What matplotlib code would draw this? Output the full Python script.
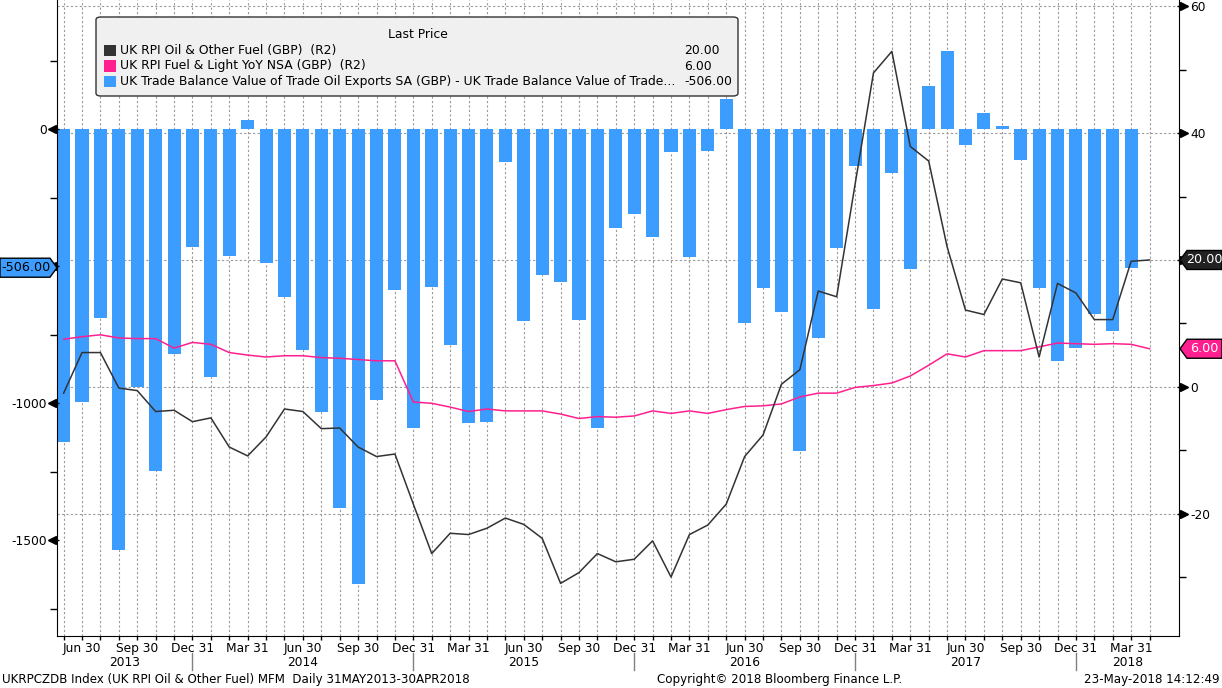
import matplotlib
matplotlib.use("Agg")
import matplotlib.pyplot as plt
import matplotlib.transforms as mtrans
from matplotlib.patches import Polygon, FancyBboxPatch, Rectangle
from matplotlib.lines import Line2D
import numpy as np
import pandas as pd

# ---------------- data ----------------
months = pd.date_range("2013-05-31", "2018-04-30", freq="ME")   # month-end dates (60)

# UK Trade Balance oil exports - imports (GBP mn), May 2013 .. Mar 2018 (left axis)
trade_balance = [-1141, -995, -689, -1535, -942, -1247, -820, -430, -906, -462,
                 33, -488, -612, -805, -1032, -1382, -1659, -988, -586, -1090,
                 -575, -787, -1072, -1068, -119, -700, -532, -557, -696, -1090,
                 -360, -309, -393, -83, -466, -79, 109, -707, -579, -667,
                 -1174, -762, -433, -134, -656, -160, -510, 157, 285, -58,
                 58, 12, -113, -579, -847, -798, -675, -737, -506]

# UK RPI Oil & Other Fuel (right axis)
rpi_oil = [-1.0, 5.4, 5.4, -0.2, -0.6, -3.9, -3.7, -5.5, -4.9, -9.5,
           -10.9, -7.9, -3.5, -3.9, -6.6, -6.5, -9.5, -11.0, -10.6, -18.5,
           -26.3, -23.1, -23.3, -22.3, -20.7, -21.7, -23.9, -31.0, -29.3, -26.3,
           -27.6, -27.2, -24.3, -30.0, -23.3, -21.8, -18.5, -11.0, -7.6, 0.4,
           2.7, 15.1, 14.2, 31.9, 49.5, 52.9, 37.9, 35.6, 22.1, 12.1,
           11.4, 17.0, 16.4, 4.7, 16.3, 14.8, 10.6, 10.6, 19.8, 20.0]

# UK RPI Fuel & Light YoY (right axis)
rpi_fuel_light = [7.5, 7.9, 8.2, 7.7, 7.6, 7.6, 6.1, 7.0, 6.7, 5.4,
                  5.0, 4.7, 4.9, 4.9, 4.6, 4.5, 4.3, 4.1, 4.1, -2.4,
                  -2.6, -3.2, -3.9, -3.5, -3.8, -3.8, -3.8, -4.3, -5.0, -4.7,
                  -4.8, -4.6, -3.8, -4.2, -3.8, -4.2, -3.6, -3.1, -3.0, -2.7,
                  -1.6, -1.0, -1.0, -0.1, 0.2, 0.6, 1.7, 3.4, 5.2, 4.7,
                  5.7, 5.7, 5.7, 6.3, 6.9, 6.8, 6.7, 6.8, 6.7, 6.0]

series_names = ["UK RPI Oil & Other Fuel (GBP)  (R2)",
                "UK RPI Fuel & Light YoY NSA (GBP)  (R2)",
                "UK Trade Balance Value of Trade Oil Exports SA (GBP) - UK Trade Balance Value of Trade..."]

left_major = [-1500, -1000, -500, 0]
left_minor = [-1750, -1250, -750, -250, 250]
right_major = [-20, 0, 20, 40, 60]
right_minor = [-30, -10, 10, 30, 50]

# ---------------- style ----------------
plt.rcParams['font.family'] = ['DejaVu Sans']
plt.rcParams['axes.unicode_minus'] = False
FS = 8.8
FS_LEG = 8.9
C_BAR = '#3d9dff'
C_OIL = '#333333'
C_PINK = '#ff1f8f'
C_GRID = '#9a9a9a'

W, H = 1222, 688
fig = plt.figure(figsize=(W / 100, H / 100), dpi=100)
fig.patch.set_facecolor('white')
L_, R_, T_, B_ = 57, 1179, 0, 636
pos = [L_ / W, 1 - B_ / H, (R_ - L_) / W, (B_ - T_) / H]

x = np.arange(len(months))
xb = np.arange(len(trade_balance))
XLIM = (-0.36, 60.6)
YL = (-1850, 471)
YR = (-39.3, 61.0)

# tick labels hidden behind the last-value tags are left blank
def labels_for(ticks, covered):
    return ['' if abs(v - covered) < (ticks[1] - ticks[0]) / 4 else str(v) for v in ticks]

# grid axes (bottom layer, right-hand scale)
axg = fig.add_axes(pos, zorder=0)
axg.set_xlim(*XLIM)
axg.set_ylim(*YR)
axg.set_xticks(x)
axg.set_yticks(right_major)
axg.grid(True, color=C_GRID, linestyle=(0, (2, 2)), linewidth=0.8)
axg.tick_params(length=0, labelbottom=False, labelleft=False)
for s in axg.spines.values():
    s.set_visible(False)

# bars (left scale)
ax = fig.add_axes(pos, zorder=1)
ax.patch.set_visible(False)
ax.bar(xb, trade_balance, width=0.71, color=C_BAR, zorder=2)
ax.set_xlim(*XLIM)
ax.set_ylim(*YL)
ax.spines['top'].set_visible(False)
ax.spines['right'].set_visible(False)
ax.set_yticks(left_major)
ax.set_yticklabels(labels_for(left_major, trade_balance[-1]))
ax.set_yticks(left_minor, minor=True)
ax.tick_params(axis='y', which='major', length=0, pad=7.5, labelsize=FS)
ax.tick_params(axis='y', which='minor', length=5, width=1)

# x ticks: every month, labels at quarter ends
q_idx = [i for i, d in enumerate(months) if d.month in (3, 6, 9, 12)]
q_lab = [f"{months[i]:%b} {months[i].day}" for i in q_idx]
ax.set_xticks(x, minor=True)
ax.set_xticks(q_idx)
ax.set_xticklabels(q_lab)
ax.tick_params(axis='x', which='both', length=3, width=1, pad=1.5, labelsize=FS)

# lines (right scale)
ax2 = fig.add_axes(pos, zorder=2)
ax2.patch.set_visible(False)
ax2.plot(x, rpi_fuel_light, color=C_PINK, lw=1.1, zorder=3)
ax2.plot(x, rpi_oil, color=C_OIL, lw=1.1, zorder=4)
ax2.set_xlim(*XLIM)
ax2.set_ylim(*YR)
for s in ['top', 'left', 'bottom']:
    ax2.spines[s].set_visible(False)
ax2.yaxis.tick_right()
ax2.set_yticks(right_major)
ax2.set_yticklabels(labels_for(right_major, rpi_oil[-1]))
ax2.set_yticks(right_minor, minor=True)
ax2.tick_params(axis='y', which='major', length=0, pad=8, labelsize=FS)
ax2.tick_params(axis='y', which='minor', length=5, width=1)
ax2.set_xticks([])

# arrow-like major ticks
tl = mtrans.blended_transform_factory(ax.transAxes, ax.transData) + \
    mtrans.ScaledTranslation(-5 / 100, 0, fig.dpi_scale_trans)
ax.plot([0] * len(left_major), left_major, ls='none', marker='<', ms=5.5,
        color='black', transform=tl, clip_on=False)
ax.plot([0] * len(left_major), left_major, ls='none', marker='_', ms=7,
        mew=1, color='black', transform=mtrans.blended_transform_factory(ax.transAxes, ax.transData)
        + mtrans.ScaledTranslation(-3 / 100, 0, fig.dpi_scale_trans), clip_on=False)
tr = mtrans.blended_transform_factory(ax2.transAxes, ax2.transData) + \
    mtrans.ScaledTranslation(5 / 100, 0, fig.dpi_scale_trans)
ax2.plot([1] * len(right_major), right_major, ls='none', marker='>', ms=5.5,
         color='black', transform=tr, clip_on=False)
ax2.plot([1] * len(right_major), right_major, ls='none', marker='_', ms=7,
         mew=1, color='black', transform=mtrans.blended_transform_factory(ax2.transAxes, ax2.transData)
         + mtrans.ScaledTranslation(3 / 100, 0, fig.dpi_scale_trans), clip_on=False)

# year labels and separators
def fy(py):
    return 1 - py / H

bt = mtrans.blended_transform_factory(ax.transData, fig.transFigure)
sep_idx = [i for i, d in enumerate(months) if d.month == 12]
bounds = [XLIM[0]] + sep_idx + [XLIM[1]]
years = sorted(set(d.year for d in months))
for k, yr in enumerate(years):
    cx = (bounds[k] + bounds[k + 1]) / 2
    fig.text(cx, fy(662), str(yr), transform=bt, ha='center', va='center', fontsize=FS)
for i in sep_idx:
    fig.add_artist(Line2D([i, i], [fy(653), fy(670)], transform=bt, color='#808080', lw=1))

# footer
fig.text(2 / W, fy(680), "UKRPCZDB Index (UK RPI Oil & Other Fuel) MFM  Daily 31MAY2013-30APR2018",
         ha='left', va='center', fontsize=8.6)
fig.text(657 / W, fy(680), "Copyright\u00a9 2018 Bloomberg Finance L.P.", ha='left', va='center', fontsize=8.6)
fig.text(1220 / W, fy(680), "23-May-2018 14:12:49", ha='right', va='center', fontsize=8.6)

# legend box
fig.add_artist(FancyBboxPatch((96 / W, fy(96)), (738 - 96) / W, (96 - 17) / H,
                              boxstyle="round,pad=0,rounding_size=0.004",
                              transform=fig.transFigure, facecolor='#f0f0f0',
                              edgecolor='#333333', lw=1, zorder=10))
fig.text(418 / W, fy(34), "Last Price", ha='center', va='center', fontsize=FS_LEG, zorder=11)
last_vals = [rpi_oil[-1], rpi_fuel_light[-1], trade_balance[-1]]
for k, (nm, c, v) in enumerate(zip(series_names, [C_OIL, C_PINK, C_BAR], last_vals)):
    yy = [50.5, 66, 81.5][k]
    fig.add_artist(Rectangle((104 / W, fy(yy + 5.5)), 11.5 / W, 11 / H, transform=fig.transFigure,
                             facecolor=c, edgecolor='none', zorder=11))
    fig.text(120 / W, fy(yy), nm, ha='left', va='center', fontsize=FS_LEG, zorder=11)
    fig.text(684 / W, fy(yy), f"{v:.2f}", ha='left', va='center', fontsize=FS_LEG, zorder=11)

# value tags
def tag(axis, val, side, fc, tc):
    ydisp = axis.transData.transform((0, val))[1]
    yp = H - ydisp
    h = 9.5
    if side == 'left':
        pts = [(0, yp - h), (50, yp - h), (57, yp), (50, yp + h), (0, yp + h)]
        tx = 26
    else:
        pts = [(1180, yp), (1187, yp - h), (1222, yp - h), (1222, yp + h), (1187, yp + h)]
        tx = 1204
    fpts = [(px / W, fy(py)) for px, py in pts]
    fig.add_artist(Polygon(fpts, closed=True, transform=fig.transFigure, facecolor=fc,
                           edgecolor='black', lw=1, zorder=20))
    fig.text(tx / W, fy(yp), f"{val:.2f}", ha='center', va='center', color=tc,
             fontsize=9.2, zorder=21)

tag(ax, trade_balance[-1], 'left', C_BAR, 'black')
tag(ax2, rpi_oil[-1], 'right', '#222222', 'white')
tag(ax2, rpi_fuel_light[-1], 'right', C_PINK, 'white')

fig.savefig("out.png", dpi=100)
